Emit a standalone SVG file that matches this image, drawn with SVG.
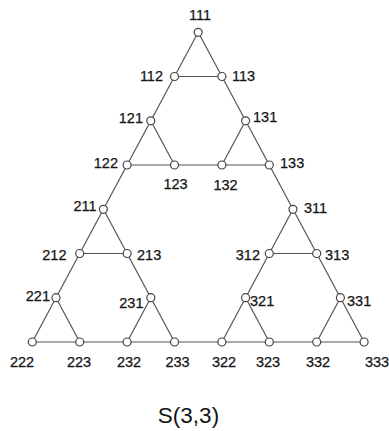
<svg xmlns="http://www.w3.org/2000/svg" width="389" height="431" viewBox="0 0 389 431">
<style>
.e{stroke:#555;stroke-width:1.2;fill:none}
.n{fill:#fff;stroke:#444;stroke-width:1.2}
.t{font-family:"Liberation Sans",Arial,sans-serif;font-size:14.5px;fill:#151515;stroke:#151515;stroke-width:0.25}
.m{text-anchor:middle}.r{text-anchor:end}
.title{font-family:"Liberation Sans",Arial,sans-serif;font-size:22.5px;fill:#151515;text-anchor:middle}
</style>
<rect width="389" height="431" fill="#fff"/>
<g id="connectors">
<line class="e" x1="198.2" y1="32.3" x2="174.5" y2="76.5"/>
<line class="e" x1="198.2" y1="32.3" x2="221.9" y2="76.5"/>
<line class="e" x1="174.5" y1="76.5" x2="221.9" y2="76.5"/>
<line class="e" x1="174.5" y1="76.5" x2="150.8" y2="120.8"/>
<line class="e" x1="221.9" y1="76.5" x2="245.6" y2="120.8"/>
<line class="e" x1="150.8" y1="120.8" x2="127.1" y2="165"/>
<line class="e" x1="150.8" y1="120.8" x2="174.5" y2="165"/>
<line class="e" x1="127.1" y1="165" x2="174.5" y2="165"/>
<line class="e" x1="245.6" y1="120.8" x2="221.9" y2="165"/>
<line class="e" x1="245.6" y1="120.8" x2="269.3" y2="165"/>
<line class="e" x1="221.9" y1="165" x2="269.3" y2="165"/>
<line class="e" x1="174.5" y1="165" x2="221.9" y2="165"/>
<line class="e" x1="127.1" y1="165" x2="103.4" y2="209.3"/>
<line class="e" x1="269.3" y1="165" x2="293" y2="209.3"/>
<line class="e" x1="103.4" y1="209.3" x2="79.7" y2="253.5"/>
<line class="e" x1="103.4" y1="209.3" x2="127.1" y2="253.5"/>
<line class="e" x1="79.7" y1="253.5" x2="127.1" y2="253.5"/>
<line class="e" x1="79.7" y1="253.5" x2="56" y2="297.7"/>
<line class="e" x1="127.1" y1="253.5" x2="150.8" y2="297.7"/>
<line class="e" x1="56" y1="297.7" x2="32.3" y2="342"/>
<line class="e" x1="56" y1="297.7" x2="79.7" y2="342"/>
<line class="e" x1="32.3" y1="342" x2="79.7" y2="342"/>
<line class="e" x1="150.8" y1="297.7" x2="127.1" y2="342"/>
<line class="e" x1="150.8" y1="297.7" x2="174.5" y2="342"/>
<line class="e" x1="127.1" y1="342" x2="174.5" y2="342"/>
<line class="e" x1="79.7" y1="342" x2="127.1" y2="342"/>
<line class="e" x1="293" y1="209.3" x2="269.3" y2="253.5"/>
<line class="e" x1="293" y1="209.3" x2="316.7" y2="253.5"/>
<line class="e" x1="269.3" y1="253.5" x2="316.7" y2="253.5"/>
<line class="e" x1="269.3" y1="253.5" x2="245.6" y2="297.7"/>
<line class="e" x1="316.7" y1="253.5" x2="340.4" y2="297.7"/>
<line class="e" x1="245.6" y1="297.7" x2="221.9" y2="342"/>
<line class="e" x1="245.6" y1="297.7" x2="269.3" y2="342"/>
<line class="e" x1="221.9" y1="342" x2="269.3" y2="342"/>
<line class="e" x1="340.4" y1="297.7" x2="316.7" y2="342"/>
<line class="e" x1="340.4" y1="297.7" x2="364.1" y2="342"/>
<line class="e" x1="316.7" y1="342" x2="364.1" y2="342"/>
<line class="e" x1="269.3" y1="342" x2="316.7" y2="342"/>
<line class="e" x1="174.5" y1="342" x2="221.9" y2="342"/>
</g>
<g id="n111"><circle class="n" cx="198.2" cy="32.3" r="4"/><text class="t m" x="200" y="19.5">111</text></g>
<g id="n112"><circle class="n" cx="174.5" cy="76.5" r="4"/><text class="t r" x="163" y="81">112</text></g>
<g id="n113"><circle class="n" cx="221.9" cy="76.5" r="4"/><text class="t" x="232" y="81">113</text></g>
<g id="n121"><circle class="n" cx="150.8" cy="120.8" r="4"/><text class="t r" x="143" y="123">121</text></g>
<g id="n131"><circle class="n" cx="245.6" cy="120.8" r="4"/><text class="t" x="253" y="122">131</text></g>
<g id="n122"><circle class="n" cx="127.1" cy="165" r="4"/><text class="t r" x="118" y="168">122</text></g>
<g id="n123"><circle class="n" cx="174.5" cy="165" r="4"/><text class="t m" x="175.5" y="189">123</text></g>
<g id="n132"><circle class="n" cx="221.9" cy="165" r="4"/><text class="t m" x="225.5" y="189.5">132</text></g>
<g id="n133"><circle class="n" cx="269.3" cy="165" r="4"/><text class="t" x="280" y="168">133</text></g>
<g id="n211"><circle class="n" cx="103.4" cy="209.3" r="4"/><text class="t r" x="96.5" y="211">211</text></g>
<g id="n311"><circle class="n" cx="293" cy="209.3" r="4"/><text class="t" x="304" y="213">311</text></g>
<g id="n212"><circle class="n" cx="79.7" cy="253.5" r="4"/><text class="t r" x="66.5" y="259.5">212</text></g>
<g id="n213"><circle class="n" cx="127.1" cy="253.5" r="4"/><text class="t" x="137" y="259.5">213</text></g>
<g id="n312"><circle class="n" cx="269.3" cy="253.5" r="4"/><text class="t r" x="260" y="259.5">312</text></g>
<g id="n313"><circle class="n" cx="316.7" cy="253.5" r="4"/><text class="t" x="325" y="259.5">313</text></g>
<g id="n221"><circle class="n" cx="56" cy="297.7" r="4"/><text class="t r" x="50" y="301">221</text></g>
<g id="n231"><circle class="n" cx="150.8" cy="297.7" r="4"/><text class="t r" x="143.5" y="307.5">231</text></g>
<g id="n321"><circle class="n" cx="245.6" cy="297.7" r="4"/><text class="t" x="250" y="306">321</text></g>
<g id="n331"><circle class="n" cx="340.4" cy="297.7" r="4"/><text class="t" x="347" y="306">331</text></g>
<g id="n222"><circle class="n" cx="32.3" cy="342" r="4"/><text class="t m" x="22" y="366.5">222</text></g>
<g id="n223"><circle class="n" cx="79.7" cy="342" r="4"/><text class="t m" x="79" y="366.5">223</text></g>
<g id="n232"><circle class="n" cx="127.1" cy="342" r="4"/><text class="t m" x="129" y="366.5">232</text></g>
<g id="n233"><circle class="n" cx="174.5" cy="342" r="4"/><text class="t m" x="177.5" y="366.5">233</text></g>
<g id="n322"><circle class="n" cx="221.9" cy="342" r="4"/><text class="t m" x="224" y="367">322</text></g>
<g id="n323"><circle class="n" cx="269.3" cy="342" r="4"/><text class="t m" x="268" y="367">323</text></g>
<g id="n332"><circle class="n" cx="316.7" cy="342" r="4"/><text class="t m" x="318" y="367">332</text></g>
<g id="n333"><circle class="n" cx="364.1" cy="342" r="4"/><text class="t m" x="377" y="367">333</text></g>
<text class="title" x="188.5" y="423">S(3,3)</text>
</svg>
